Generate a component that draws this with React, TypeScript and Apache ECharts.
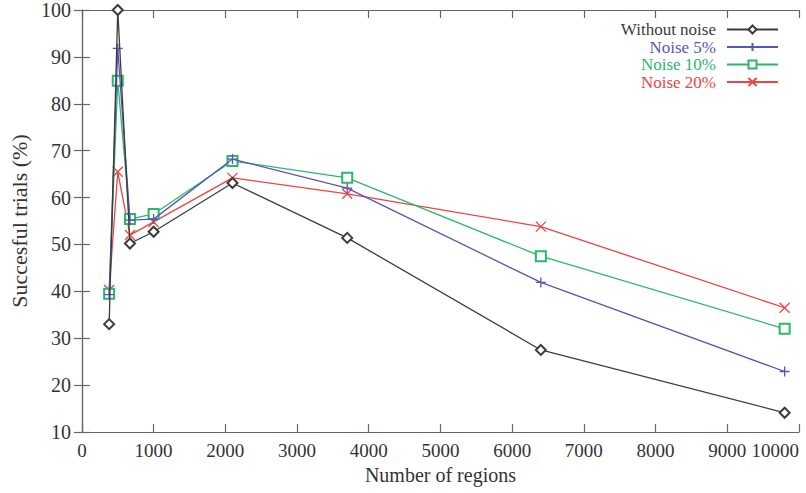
import React, { useEffect, useRef } from "react";
import * as echarts from "echarts";

const xValues = [380, 500, 670, 1000, 2100, 3700, 6400, 9800];
const withoutNoise = [33.0, 100, 50.2, 52.7, 63.1, 51.4, 27.5, 14.1];
const noise5 = [39.3, 91.8, 55.2, 55.4, 68.2, 62.0, 41.9, 22.9];
const noise10 = [39.5, 84.9, 55.4, 56.5, 67.8, 64.2, 47.5, 32.0];
const noise20 = [40.3, 65.5, 52.0, 54.8, 64.2, 60.8, 53.8, 36.5];

const seriesNames = ["Without noise", "Noise 5%", "Noise 10%", "Noise 20%"];
const seriesColors = ["#3c3c3c", "#5656b6", "#2ab86a", "#ee4444"];
const seriesSymbols = [
  "emptyDiamond",
  "path://M5,0L5,10M0,5L10,5",
  "emptyRect",
  "path://M0,0L10,10M0,10L10,0",
];
const seriesData = [withoutNoise, noise5, noise10, noise20];

const xTickMax = 10000;
const xTickInterval = 1000;
const yMin = 10;
const yMax = 100;
const yInterval = 10;

const FONT = '"Liberation Serif", "Times New Roman", serif';

export default function App() {
  const ref = useRef<HTMLDivElement>(null);
  useEffect(() => {
    if (!ref.current) return;
    document.body.style.margin = "0";
    const chart = echarts.init(ref.current, undefined, { renderer: "svg" });
    const axisLineStyle = { color: "#666", width: 1.2 };
    const baseX = {
      type: "value" as const,
      min: 0,
      max: xTickMax,
      interval: xTickInterval,
      splitLine: { show: false },
      axisLine: { show: true, lineStyle: axisLineStyle },
      axisTick: { show: true, inside: true, length: 8, lineStyle: axisLineStyle },
    };
    const baseY = {
      type: "value" as const,
      min: yMin,
      max: yMax,
      interval: yInterval,
      splitLine: { show: false },
      axisLine: { show: true, lineStyle: axisLineStyle },
      axisTick: { show: true, inside: true, length: 8, lineStyle: axisLineStyle },
    };
    const legends = seriesNames.map((name, i) => ({
      data: [name],
      orient: "vertical" as const,
      right: 27,
      top: 21 + i * 17.5,
      align: "right" as const,
      padding: 0,
      itemWidth: 51,
      itemHeight: 10,
      selectedMode: false,
      textStyle: {
        color: seriesColors[i],
        fontFamily: FONT,
        fontSize: 17,
        lineHeight: 16,
        padding: [0, 6, 0, 0],
      },
    }));
    chart.setOption({
      animation: false,
      backgroundColor: "#fff",
      grid: { left: 81, right: 7, top: 10, bottom: 61, containLabel: false },
      legend: legends,
      xAxis: [
        {
          ...baseX,
          position: "bottom",
          name: "Number of regions",
          nameLocation: "middle",
          nameGap: 33,
          nameTextStyle: { fontFamily: FONT, fontSize: 20, color: "#333" },
          axisLabel: {
            fontFamily: FONT,
            fontSize: 19,
            color: "#333",
            margin: 9,
            alignMaxLabel: "right",
            formatter: (v: number) => String(v),
          },
        },
        { ...baseX, position: "top", axisLabel: { show: false } },
      ],
      yAxis: [
        {
          ...baseY,
          position: "left",
          name: "Succesful trials (%)",
          nameLocation: "middle",
          nameGap: 50,
          nameTextStyle: { fontFamily: FONT, fontSize: 22, color: "#333" },
          axisLabel: { fontFamily: FONT, fontSize: 20, color: "#333", margin: 11 },
        },
        { ...baseY, position: "right", axisLabel: { show: false } },
      ],
      series: seriesNames.map((name, i) => ({
        name,
        type: "line",
        xAxisIndex: 0,
        yAxisIndex: 0,
        data: xValues.map((x, j) => [x, seriesData[i][j]]),
        symbol: seriesSymbols[i],
        symbolSize: 10,
        showAllSymbol: true,
        clip: false,
        lineStyle: { color: seriesColors[i], width: 1.3 },
        itemStyle: {
          color: seriesColors[i],
          borderColor: seriesColors[i],
          borderWidth: 1.3,
        },
        z: 10 - i,
      })),
    });
    return () => chart.dispose();
  }, []);
  return <div ref={ref} style={{ width: 806, height: 493 }} />;
}
